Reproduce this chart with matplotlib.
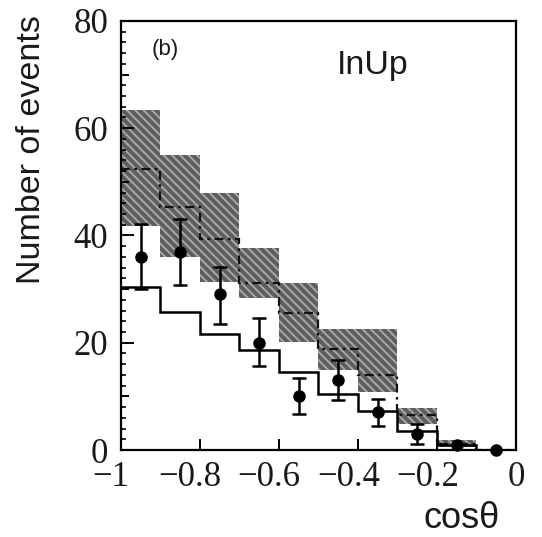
import numpy as np
import matplotlib
matplotlib.use("Agg")
import matplotlib.pyplot as plt
from matplotlib.transforms import ScaledTranslation

# cos(theta) binning
bin_edges = [-1.0, -0.9, -0.8, -0.7, -0.6, -0.5, -0.4, -0.3, -0.2, -0.1, 0.0]

# expectation (solid histogram)
expected = [30.3, 25.8, 21.6, 18.7, 14.5, 10.4, 7.3, 3.6, 1.0, 0.0]

# prediction (dash-dotted) with its uncertainty band
prediction = [52.4, 45.4, 39.3, 31.1, 25.5, 18.8, 13.9, 6.5, 1.2, 0.0]
band_low = [41.7, 35.9, 31.3, 28.3, 20.1, 14.9, 10.9, 4.9, 0.5, 0.0]
band_high = [63.4, 55.0, 48.0, 37.6, 31.1, 22.6, 22.6, 7.9, 1.8, 0.0]

# observed events with asymmetric errors
observed = [36, 37, 29, 20, 10, 13, 7, 3, 1, 0]
err_up = [6.2, 6.1, 5.2, 4.7, 3.4, 3.8, 2.6, 1.9, 0.0, 0.0]
err_down = [5.9, 6.2, 5.5, 4.3, 3.3, 3.7, 2.5, 1.9, 0.0, 0.0]

x_ticks = [-1.0, -0.8, -0.6, -0.4, -0.2, 0.0]
x_tick_labels = ["\u22121", "\u22120.8", "\u22120.6", "\u22120.4", "\u22120.2", "0"]
y_ticks = [0, 10, 20, 30, 40, 50, 60, 70, 80]
y_tick_labels = ["0", "", "20", "", "40", "", "60", "", "80"]

plt.rcParams["hatch.linewidth"] = 1.4
plt.rcParams["hatch.color"] = "#a8a8a8"

fig = plt.figure(figsize=(5.42, 5.37), dpi=100)
ax = fig.add_axes([0.2232, 0.162, 0.7288, 0.799])

edges = np.array(bin_edges)
centers = 0.5 * (edges[:-1] + edges[1:])
widths = np.diff(edges)
lo = np.array(band_low)
hi = np.array(band_high)

# uncertainty band
ax.bar(centers, hi - lo, width=widths, bottom=lo, color="#5e5e5e",
       edgecolor="#a8a8a8", hatch="\\\\\\\\", linewidth=0, zorder=1)

ax.stairs(prediction, edges, baseline=None, color="#111111", linewidth=1.6,
          linestyle=(0, (4, 2, 1.2, 2)), zorder=2)
ax.stairs(expected, edges, baseline=None, color="black", linewidth=1.8, zorder=3)

obs = np.array(observed, dtype=float)
eu = np.array(err_up)
ed = np.array(err_down)
has_err = (eu + ed) > 0
ax.errorbar(centers[has_err], obs[has_err], yerr=[ed[has_err], eu[has_err]],
            fmt="none", ecolor="black", elinewidth=1.8, capsize=5, capthick=1.8,
            zorder=4)
ax.plot(centers, obs, "o", color="black", markersize=8, zorder=5, clip_on=False)

ax.set_xlim(-1, 0)
ax.set_ylim(0, 80)

for s in ax.spines.values():
    s.set_linewidth(1.6)

serif = "Liberation Serif"
ax.set_xticks(x_ticks)
ax.set_xticklabels(x_tick_labels, fontfamily=serif, fontsize=25)
ax.set_yticks(y_ticks)
ax.set_yticklabels(y_tick_labels, fontfamily=serif, fontsize=25)
ax.yaxis.set_minor_locator(matplotlib.ticker.MultipleLocator(2))
ax.tick_params(axis="both", which="major", direction="in", width=1.4,
               color="black", labelcolor="#1a1a1a")
ax.tick_params(axis="x", which="major", length=8, pad=8)
ax.tick_params(axis="y", which="major", length=9.5, pad=9)
ax.tick_params(axis="y", which="minor", direction="in", length=3.8, width=1.2)

# medium-length ticks at the unlabeled tens
for t, lab in zip(ax.yaxis.get_major_ticks(), y_tick_labels):
    if lab == "":
        t.tick1line.set_markersize(6)

# center labels on their digits, letting the minus sign hang left
shift = ScaledTranslation(-7 / 72, 0, fig.dpi_scale_trans)
for lab in ax.get_xticklabels():
    if lab.get_text().startswith("\u2212"):
        lab.set_transform(lab.get_transform() + shift)

sans = "Liberation Sans"
fig.text(32 / 542, 1 - 15 / 537, "Number of events", rotation=90, ha="center",
         va="top", fontfamily=sans, fontsize=24.5, color="#1a1a1a")
fig.text(500 / 542, 1 - 528 / 537, "cos\u03b8", ha="right", va="baseline",
         fontfamily=sans, fontsize=26, color="#1a1a1a")
ax.text(0.547, 0.876, "InUp", transform=ax.transAxes, ha="left", va="baseline",
        fontfamily=sans, fontsize=24.5, color="#1a1a1a")
ax.text(0.078, 0.921, "(b)", transform=ax.transAxes, ha="left", va="baseline",
        fontfamily=sans, fontsize=16, color="#1a1a1a")

fig.savefig("out.png", dpi=100)
